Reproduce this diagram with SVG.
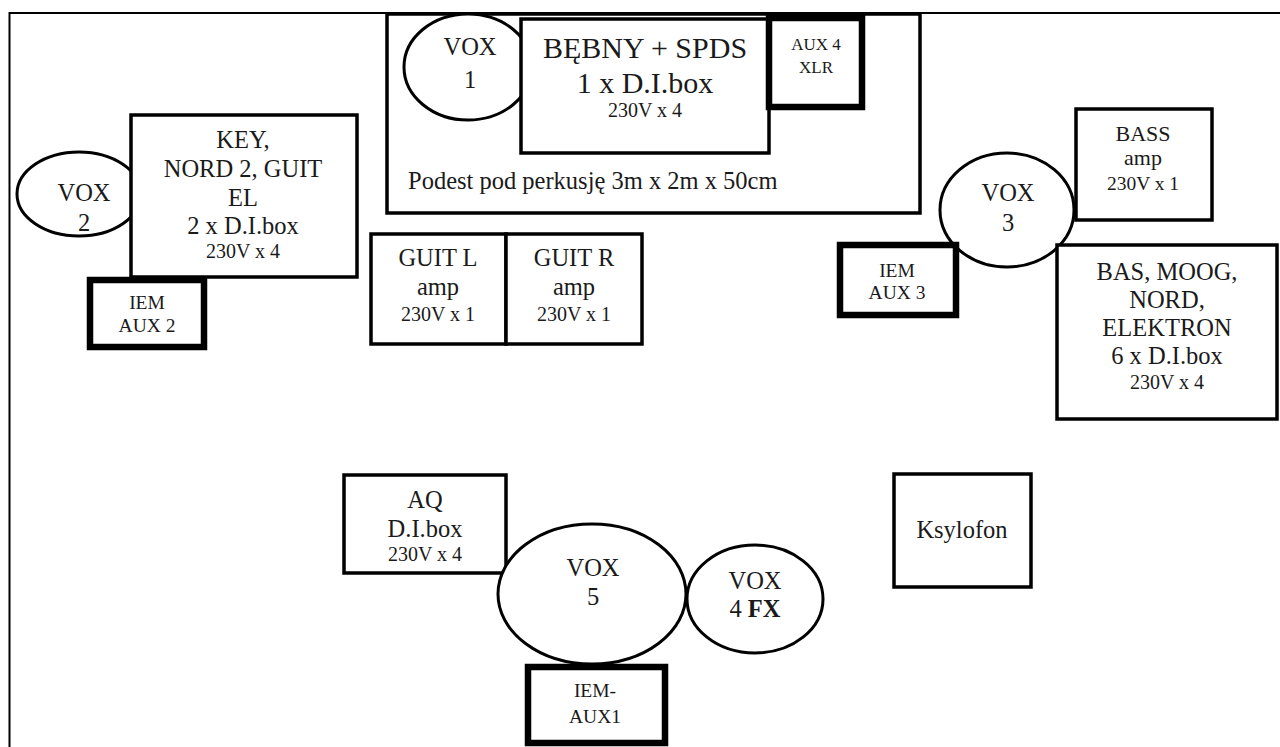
<svg xmlns="http://www.w3.org/2000/svg" width="1280" height="747" viewBox="0 0 1280 747" font-family="'Liberation Serif', 'DejaVu Serif', serif">
<style>
text{font-family:'Liberation Serif','DejaVu Serif',serif;fill:#1a1a1a;text-anchor:middle}
.b{fill:#fff;stroke:#000;stroke-width:3.5}
.t{fill:#fff;stroke:#000;stroke-width:6.5}
.e{fill:#fff;stroke:#000;stroke-width:3}
.m{font-size:24.5px}
.s{font-size:20px}
.xs{font-size:19.5px}
.big{font-size:30px}
</style>
<rect width="1280" height="747" fill="#fff"/>
<g id="page">
<line x1="9" y1="13" x2="1280" y2="13" stroke="#000" stroke-width="2"/>
<line x1="9.5" y1="12" x2="9.5" y2="747" stroke="#000" stroke-width="2"/>
</g>
<g id="connectors"></g>
<g id="podest">
<rect class="b" x="387" y="14" width="533" height="199"/>
<text x="408" y="189" class="m" style="text-anchor:start">Podest pod perkusję 3m x 2m x 50cm</text>
</g>
<g id="vox1">
<ellipse class="e" cx="468" cy="67" rx="64" ry="53"/>
<text x="470" y="55" class="m">VOX</text>
<text x="470" y="88" class="m">1</text>
</g>
<g id="bebny">
<rect class="b" x="521" y="19" width="248" height="134"/>
<text x="645" y="58" class="big">BĘBNY + SPDS</text>
<text x="645" y="93" class="big">1 x D.I.box</text>
<text x="645" y="117" class="s">230V x 4</text>
</g>
<g id="aux4">
<rect class="t" x="769" y="18" width="93" height="89"/>
<text x="816" y="50" style="font-size:17px">AUX 4</text>
<text x="816" y="73" style="font-size:17px">XLR</text>
</g>
<g id="vox2">
<ellipse class="e" cx="79" cy="194" rx="62" ry="42"/>
<text x="84" y="201" class="m">VOX</text>
<text x="84" y="231" class="m">2</text>
</g>
<g id="key">
<rect class="b" x="131" y="115" width="226" height="162"/>
<text x="243" y="148" class="m">KEY,</text>
<text x="243" y="177" class="m">NORD 2, GUIT</text>
<text x="243" y="206" class="m">EL</text>
<text x="243" y="234" class="m">2 x D.I.box</text>
<text x="243" y="258" class="s">230V x 4</text>
</g>
<g id="iem2">
<rect class="t" x="90" y="280" width="114" height="67"/>
<text x="147" y="309" class="xs">IEM</text>
<text x="147" y="332" class="xs">AUX 2</text>
</g>
<g id="guitl">
<rect class="b" x="371" y="234" width="135" height="110"/>
<text x="438" y="266" class="m">GUIT L</text>
<text x="438" y="295" class="m">amp</text>
<text x="438" y="321" class="s">230V x 1</text>
</g>
<g id="guitr">
<rect class="b" x="506" y="234" width="136" height="110"/>
<text x="574" y="266" class="m">GUIT R</text>
<text x="574" y="295" class="m">amp</text>
<text x="574" y="321" class="s">230V x 1</text>
</g>
<g id="bass">
<rect class="b" x="1076" y="109" width="136" height="111"/>
<text x="1143" y="141" style="font-size:22px">BASS</text>
<text x="1143" y="165" style="font-size:22px">amp</text>
<text x="1143" y="190" class="xs">230V x 1</text>
</g>
<g id="vox3">
<ellipse class="e" cx="1007" cy="210" rx="67" ry="57"/>
<text x="1008" y="201" class="m">VOX</text>
<text x="1008" y="231" class="m">3</text>
</g>
<g id="iem3">
<rect class="t" x="840" y="245" width="116" height="70"/>
<text x="897" y="277" class="xs">IEM</text>
<text x="897" y="299" class="xs">AUX 3</text>
</g>
<g id="basmoog">
<rect class="b" x="1057" y="245" width="220" height="174"/>
<text x="1167" y="280" class="m">BAS, MOOG,</text>
<text x="1167" y="308" class="m">NORD,</text>
<text x="1167" y="336" class="m">ELEKTRON</text>
<text x="1167" y="364" class="m">6 x D.I.box</text>
<text x="1167" y="389" class="s">230V x 4</text>
</g>
<g id="aq">
<rect class="b" x="344" y="475" width="162" height="98"/>
<text x="425" y="508" class="m">AQ</text>
<text x="425" y="537" class="m">D.I.box</text>
<text x="425" y="561" class="s">230V x 4</text>
</g>
<g id="vox5">
<ellipse class="e" cx="592" cy="594" rx="94" ry="70"/>
<text x="593" y="576" class="m">VOX</text>
<text x="593" y="605" class="m">5</text>
</g>
<g id="vox4">
<ellipse class="e" cx="755" cy="599" rx="68" ry="54"/>
<text x="755" y="589" class="m">VOX</text>
<text x="755" y="617" class="m">4 <tspan font-weight="bold">FX</tspan></text>
</g>
<g id="iem1">
<rect class="t" x="528" y="667" width="137" height="76"/>
<text x="595" y="697" class="xs">IEM-</text>
<text x="595" y="723" class="xs">AUX1</text>
</g>
<g id="ksylofon">
<rect class="b" x="894" y="474" width="137" height="113"/>
<text x="962" y="538" class="m">Ksylofon</text>
</g>
</svg>
